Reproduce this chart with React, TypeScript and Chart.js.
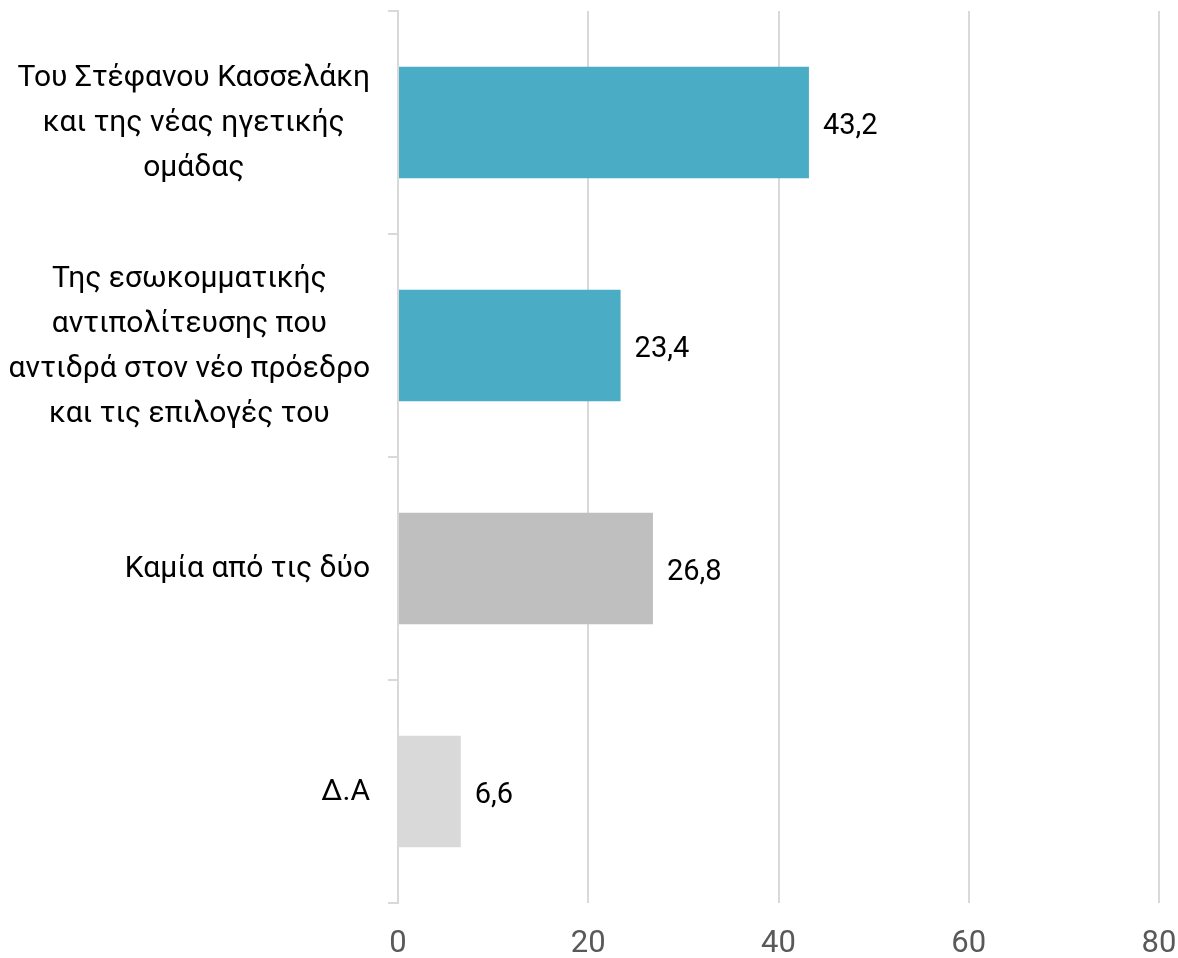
import React, { useEffect, useRef } from "react";
import { Chart, registerables } from "chart.js";

Chart.register(...registerables);

const categories: string[][] = [
  ["Του Στέφανου Κασσελάκη", "και της νέας ηγετικής", "ομάδας"],
  ["Της εσωκομματικής", "αντιπολίτευσης που", "αντιδρά στον νέο πρόεδρο", "και τις επιλογές του"],
  ["Καμία από τις δύο"],
  ["Δ.Α"],
];
const values = [43.2, 23.4, 26.8, 6.6];
const barColors = ["#4BACC6", "#4BACC6", "#BFBFBF", "#D9D9D9"];
const xTicks = [0, 20, 40, 60, 80];

const FONT = "Roboto, 'Open Sans', sans-serif";

const valueLabels = {
  id: "valueLabels",
  afterDatasetsDraw(chart: any) {
    const ctx = chart.ctx;
    const meta = chart.getDatasetMeta(0);
    ctx.save();
    ctx.font = `29px ${FONT}`;
    ctx.fillStyle = "#000000";
    ctx.textAlign = "left";
    ctx.textBaseline = "middle";
    meta.data.forEach((bar: any, i: number) => {
      const txt = values[i].toFixed(1).replace(".", ",");
      ctx.fillText(txt, bar.x + 14, bar.y + 4);
    });
    ctx.restore();
  },
};

// Category labels: block right-aligned next to the axis, lines centred within the block
const categoryLabels = {
  id: "categoryLabels",
  afterDraw(chart: any) {
    const ctx = chart.ctx;
    const y = chart.scales.y;
    const lineH = 45;
    const right = y.right - 28;
    ctx.save();
    ctx.font = `30px ${FONT}`;
    ctx.fillStyle = "#000000";
    ctx.textAlign = "center";
    ctx.textBaseline = "middle";
    categories.forEach((lines, i) => {
      const cy = y.getPixelForTick(i);
      const w = Math.max(...lines.map((l) => ctx.measureText(l).width));
      const cx = right - w / 2;
      const y0 = cy - ((lines.length - 1) / 2) * lineH;
      lines.forEach((l, k) => ctx.fillText(l, cx, y0 + k * lineH + 1));
    });
    ctx.restore();
  },
};

export default function App() {
  const ref = useRef<HTMLCanvasElement | null>(null);
  useEffect(() => {
    if (!ref.current) return;
    const chart = new Chart(ref.current, {
      type: "bar",
      data: {
        labels: categories.map((l) => l.join(" ")),
        datasets: [
          {
            data: values,
            backgroundColor: barColors,
            barPercentage: 0.5,
            categoryPercentage: 1,
          },
        ],
      },
      options: {
        indexAxis: "y",
        animation: false,
        responsive: false,
        layout: { padding: { top: 11, right: 19, left: 0, bottom: 0 } },
        plugins: { legend: { display: false }, tooltip: { enabled: false } },
        scales: {
          x: {
            min: 0,
            max: 80,
            afterBuildTicks: (scale: any) => {
              scale.ticks = xTicks.map((v) => ({ value: v }));
            },
            afterFit: (scale: any) => {
              scale.height = 55;
              scale.paddingLeft = 0;
              scale.paddingRight = 0;
            },
            grid: { color: "#D9D9D9", lineWidth: 2, drawTicks: false },
            border: { display: false },
            ticks: {
              color: "#595959",
              font: { family: FONT, size: 31 },
              padding: 23,
            },
          },
          y: {
            afterFit: (scale: any) => {
              scale.width = 398;
              scale.paddingTop = 0;
              scale.paddingBottom = 0;
            },
            grid: {
              offset: true,
              drawOnChartArea: false,
              drawTicks: true,
              tickLength: 10,
              color: "#D9D9D9",
              lineWidth: 2,
            },
            border: { display: true, color: "#D9D9D9", width: 2 },
            ticks: { display: false },
          },
        },
      },
      plugins: [valueLabels, categoryLabels],
    } as any);
    return () => chart.destroy();
  }, []);
  return (
    <div style={{ position: "absolute", left: 0, top: 0, width: 1178, height: 958, background: "#fff" }}>
      <canvas ref={ref} width={1178} height={958} style={{ display: "block" }} />
    </div>
  );
}
